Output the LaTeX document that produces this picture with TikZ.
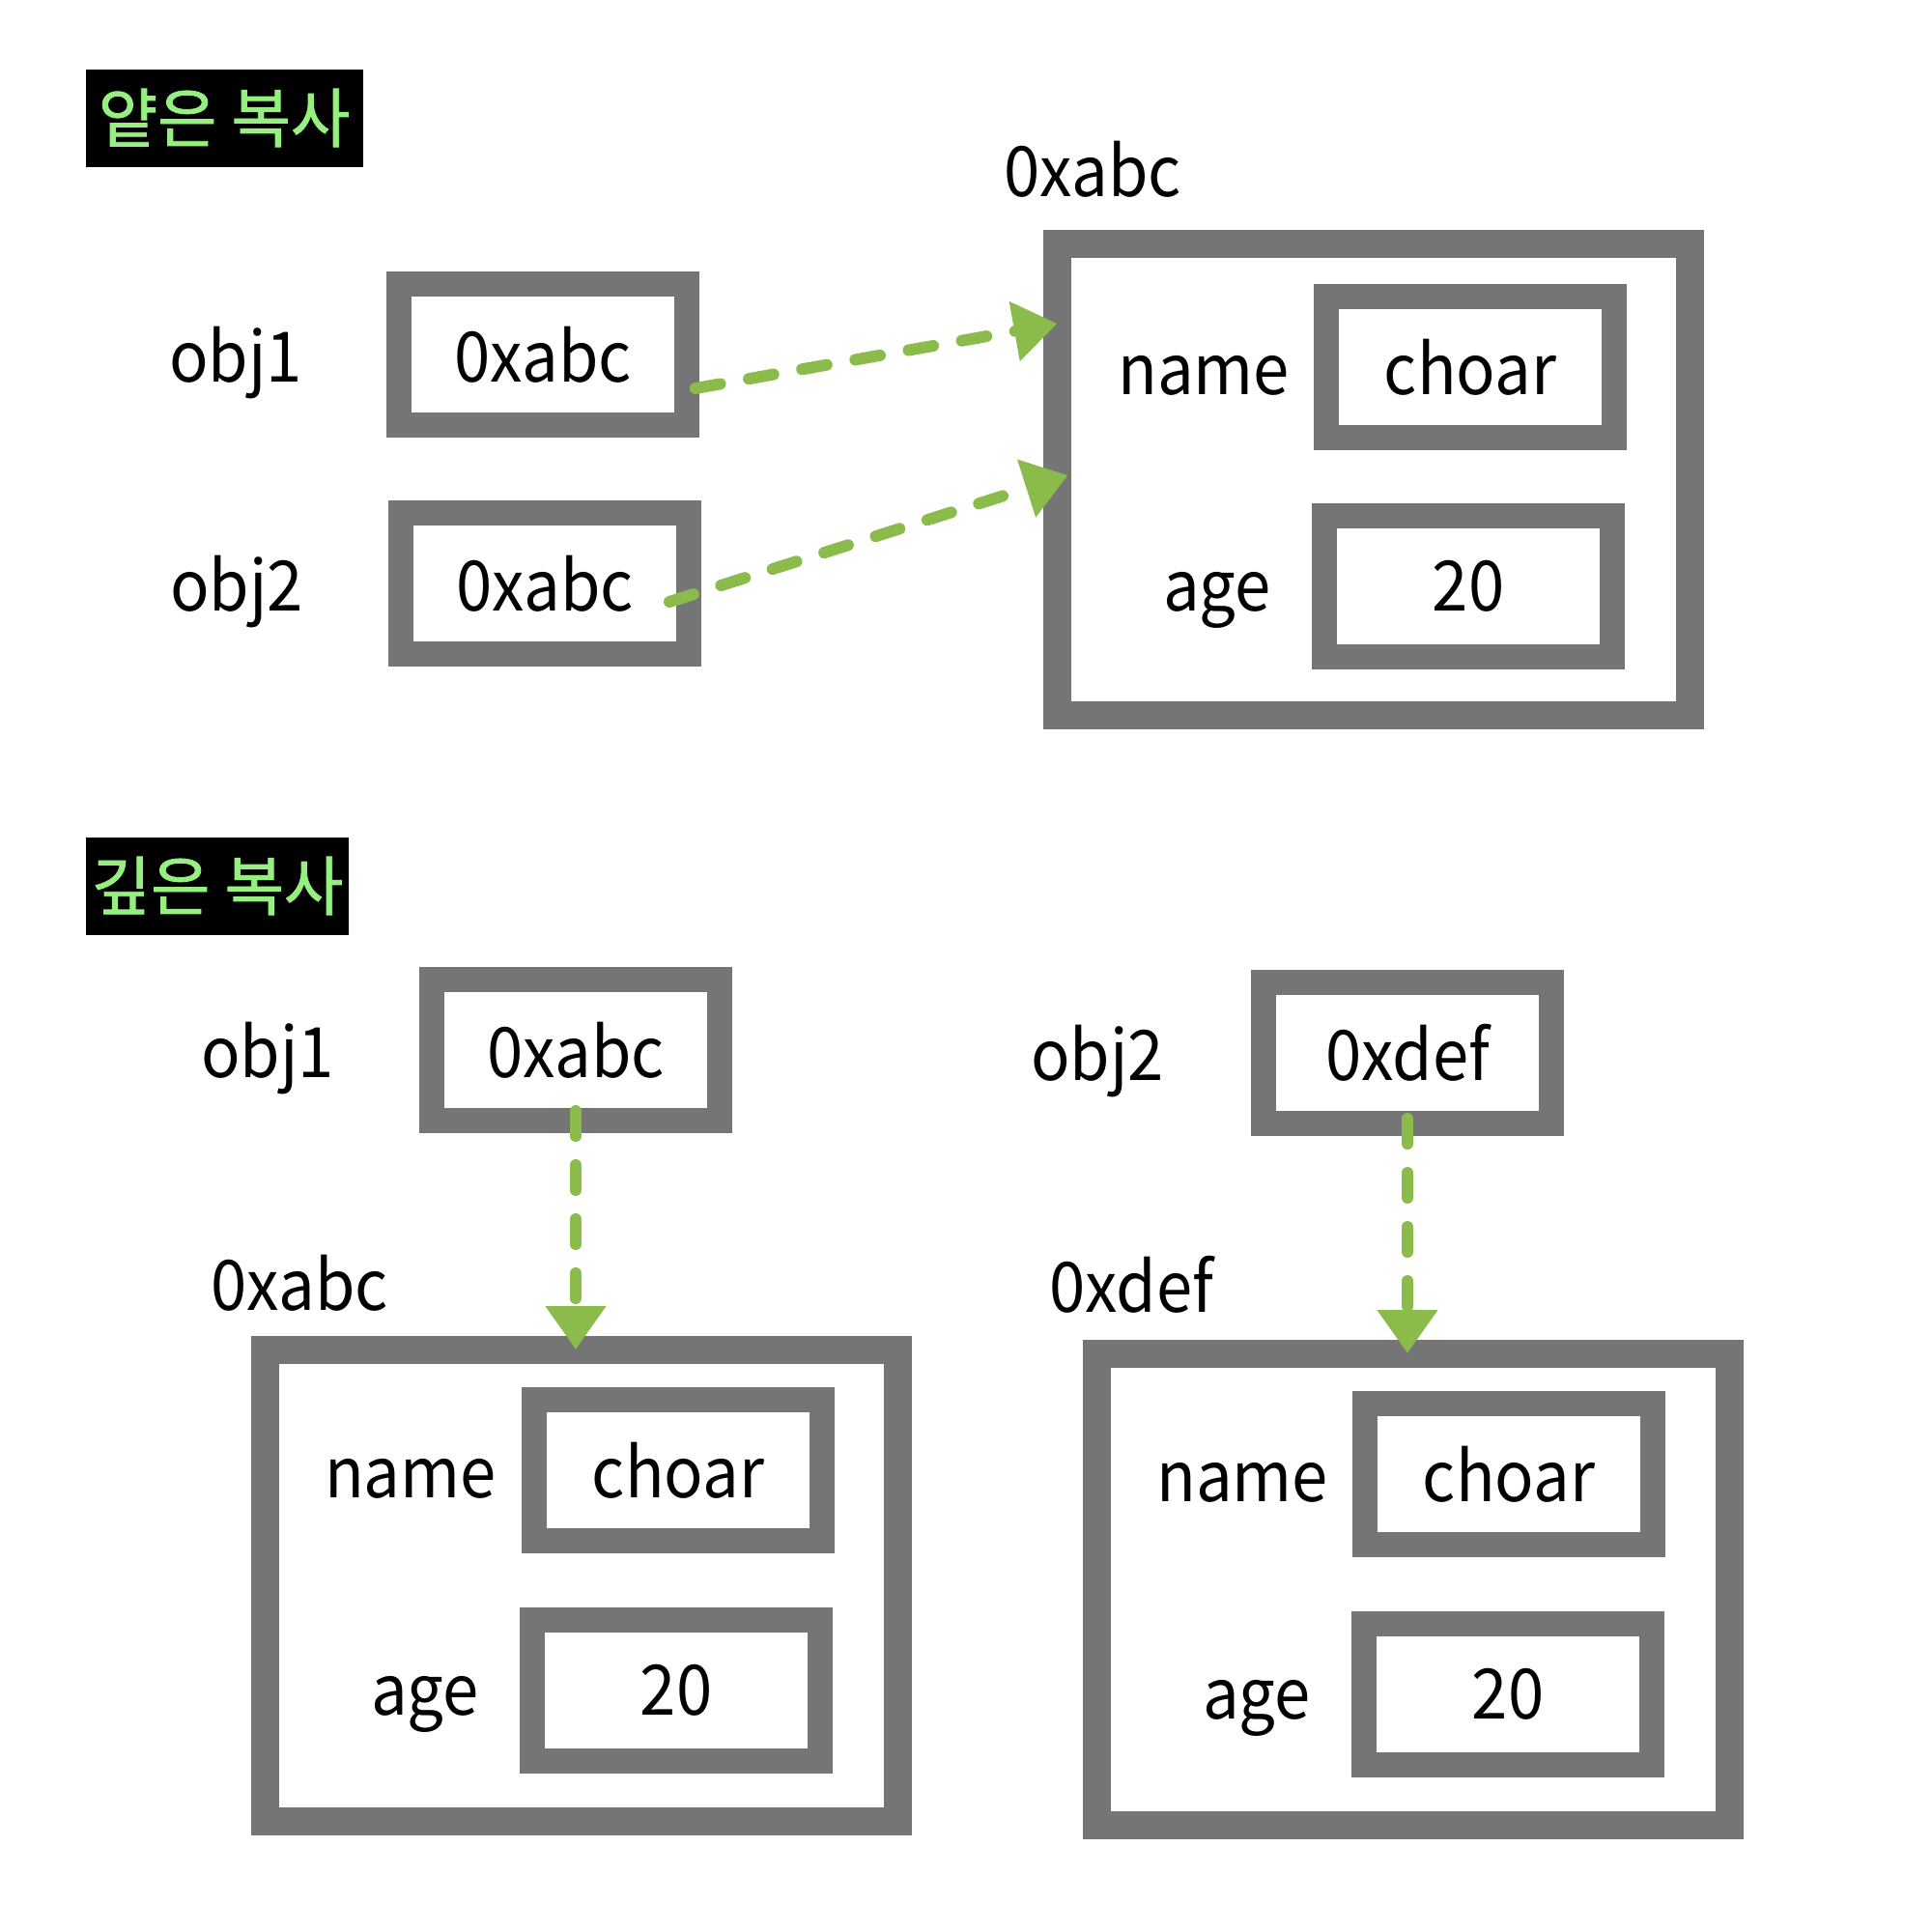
\documentclass[tikz,border=0pt]{standalone}
\usepackage{fontspec}
\setmainfont{Noto Sans CJK KR}[FakeStretch=0.93]
\newfontfamily\titlefont{Noto Sans CJK KR}[FakeBold=1.2]
\usetikzlibrary{arrows.meta}
\usetikzlibrary{positioning}
\definecolor{boxgray}{RGB}{117,117,117}
\definecolor{arrowgreen}{RGB}{139,187,74}
\definecolor{titlegreen}{RGB}{150,240,128}

\begin{document}
\begin{tikzpicture}
    \tikzstyle{mem label}=[inner sep=0pt,font=\fontsize{20.5}{24}\selectfont]
    \tikzstyle{small box}=[mem label,draw=boxgray,line width=0.26cm,minimum width=2.98cm,minimum height=1.46cm,outer sep=0pt]
    \tikzstyle{big box}=[draw=boxgray,line width=0.29cm,minimum width=6.55cm,minimum height=4.88cm,inner sep=0pt,outer sep=0pt]
    \tikzstyle{title box}=[fill=black,text=titlegreen,minimum height=1.01cm,inner sep=0pt,font=\titlefont\fontsize{19}{23}\selectfont]
    \tikzstyle{pointer}=[arrowgreen,line width=0.12cm,line cap=round,dash pattern=on 0.26cm off 0.3cm,-{Triangle[length=0.45cm,width=0.6cm]}]

\useasboundingbox (0,0) rectangle (20,-20);

% Copie superficielle
\node[title box,minimum width=2.87cm] (T-1) at (2.32,-1.22) {얕은 복사};
\node[mem label] (A-1) at (11.31,-1.75) {0xabc};
\node[big box] (SB) at (14.22,-4.96) {};

\node[small box] (S-1) at (5.62,-3.67) {0xabc};
\node[small box] (S-2) at (5.64,-6.04) {0xabc};
\node[small box] (S-name) at (15.22,-3.80) {choar};
\node[small box] (S-age) at (15.20,-6.07) {20};

\node[mem label,anchor=base] (L-1) at (2.44,0 |- S-1.base) {obj1};
\node[mem label,anchor=base] (L-2) at (2.45,0 |- S-2.base) {obj2};
\node[mem label,anchor=base] (L-3) at (12.46,0 |- S-name.base) {name};
\node[mem label,anchor=base] (L-4) at (12.60,0 |- S-age.base) {age};

 \draw[pointer] ([xshift=0.09cm,yshift=-0.35cm]S-1.east) -- ([yshift=1.61cm]SB.west);
 \draw[pointer] ([xshift=-0.2cm,yshift=-0.19cm]S-2.east) -- ([xshift=0.11cm,yshift=0.04cm]SB.west);

% Copie profonde
\node[title box,minimum width=2.72cm] (T-2) at (2.25,-9.17) {깊은 복사};

\node[small box] (D-1) at (5.96,-10.87) {0xabc};
\node[small box] (D-2) at (14.57,-10.90) {0xdef};
\node[mem label,anchor=base] (L-5) at (2.77,0 |- D-1.base) {obj1};
\node[mem label,anchor=base] (L-6) at (11.36,0 |- D-2.base) {obj2};

\node[mem label] (A-2) at (3.10,-13.28) {0xabc};
\node[mem label] (A-3) at (11.71,-13.30) {0xdef};

\node[big box] (DB-1) at (6.02,-16.41) {};
\node[big box] (DB-2) at (14.63,-16.45) {};

\node[small box] (D-name1) at (7.02,-15.22) {choar};
\node[small box] (D-age1) at (7.00,-17.50) {20};
\node[small box] (D-name2) at (15.62,-15.26) {choar};
\node[small box] (D-age2) at (15.61,-17.54) {20};

\node[mem label,anchor=base] (L-7) at (4.25,0 |- D-name1.base) {name};
\node[mem label,anchor=base] (L-8) at (4.40,0 |- D-age1.base) {age};
\node[mem label,anchor=base] (L-9) at (12.86,0 |- D-name2.base) {name};
\node[mem label,anchor=base] (L-10) at (13.01,0 |- D-age2.base) {age};

 \draw[pointer] ([yshift=0.1cm]D-1.south) -- (D-1.south |- DB-1.north);
 \draw[pointer] ([yshift=0.05cm]D-2.south) -- (D-2.south |- DB-2.north);

\end{tikzpicture}
\end{document}
